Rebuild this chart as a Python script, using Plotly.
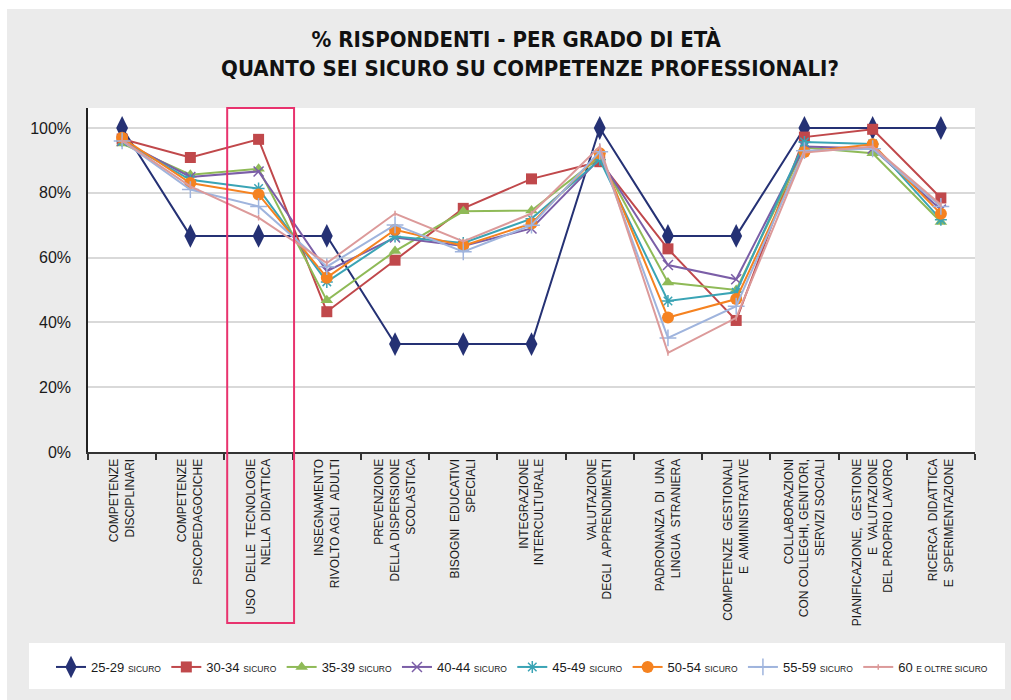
import plotly.graph_objects as go

categories = [
    "COMPETENZE<br>DISCIPLINARI",
    "COMPETENZE<br>PSICOPEDAGOCICHE",
    "USO  DELLE  TECNOLOGIE<br>NELLA  DIDATTICA",
    "INSEGNAMENTO<br>RIVOLTO AGLI  ADULTI",
    "PREVENZIONE<br>DELLA DISPERSIONE<br>SCOLASTICA",
    "BISOGNI  EDUCATIVI<br>SPECIALI",
    "INTEGRAZIONE<br>INTERCULTURALE",
    "VALUTAZIONE<br>DEGLI  APPRENDIMENTI",
    "PADRONANZA  DI  UNA<br>LINGUA  STRANIERA",
    "COMPETENZE  GESTIONALI<br>E  AMMINISTRATIVE",
    "COLLABORAZIONI<br>CON COLLEGHI, GENITORI,<br>SERVIZI SOCIALI",
    "PIANIFICAZIONE,  GESTIONE<br>E  VALUTAZIONE<br>DEL PROPRIO LAVORO",
    "RICERCA  DIDATTICA<br>E  SPERIMENTAZIONE",
]

series_names = ["25-29", "30-34", "35-39", "40-44", "45-49", "50-54", "55-59", "60"]
series_suffix = ["SICURO"] * 7 + ["E OLTRE SICURO"]

s25_29 = [100, 66.7, 66.7, 66.7, 33.3, 33.3, 33.3, 100, 66.7, 66.7, 100, 100, 100]
s30_34 = [96.6, 90.9, 96.5, 43.3, 59.2, 75.2, 84.3, 89.6, 62.7, 40.6, 97.2, 99.6, 78.4]
s35_39 = [95.2, 85.6, 87.4, 46.8, 62.0, 74.3, 74.5, 91.0, 52.3, 50.0, 94.0, 92.2, 71.0]
s40_44 = [96.0, 84.9, 86.6, 55.8, 66.2, 63.6, 69.0, 90.5, 57.7, 53.3, 94.3, 93.7, 74.8]
s45_49 = [96.0, 84.0, 81.3, 52.5, 66.5, 64.5, 72.0, 90.2, 46.6, 49.3, 95.7, 95.1, 71.7]
s50_54 = [97.0, 83.0, 79.5, 53.8, 68.6, 63.7, 70.5, 92.2, 41.5, 47.2, 92.6, 95.0, 73.5]
s55_59 = [96.0, 81.0, 75.8, 57.2, 70.1, 61.8, 70.0, 92.7, 35.2, 45.0, 93.0, 93.6, 75.8]
s60_plus = [96.2, 82.0, 72.3, 58.3, 73.6, 65.0, 73.6, 94.3, 30.6, 41.4, 92.4, 94.3, 76.3]

all_series = [s25_29, s30_34, s35_39, s40_44, s45_49, s50_54, s55_59, s60_plus]

colors = ["#253174", "#c0484b", "#8fba57", "#7b5ea7", "#3aa4b5", "#f58220", "#9fb4dd", "#dc9a9a"]
symbols = ["diamond-tall", "square", "triangle-up", "x-thin", "asterisk", "circle", "cross-thin", "line-ns"]
sizes = [17, 11, 11, 10, 10, 12, 12, 4]

TITLE_FONT = "DejaVu Sans Condensed, DejaVu Sans, sans-serif"
FONT = "Liberation Sans, Arial, sans-serif"

W, H = 1011, 700
# plot area in screen pixels (body margin removed, so screen == figure pixels)
L, R, T, B = 88, 975, 108, 452


def xp(px):
    return (px - L) / (R - L)


def yp(py):
    return (B - py) / (B - T)


fig = go.Figure()
for name, suf, vals, col, sym, sz in zip(series_names, series_suffix, all_series, colors, symbols, sizes):
    thin = sym in ("x-thin", "asterisk", "cross-thin", "line-ns")
    fig.add_trace(go.Scatter(
        x=categories, y=vals, mode="lines+markers",
        name=f"{name} <span style='font-size:8.5px'>{suf}</span>",
        line=dict(color=col, width=2),
        marker=dict(symbol=sym, size=sz, color=col,
                    line=dict(color=col, width=1.5 if thin else 0)),
    ))

ymax = (B - T) / 3.24

fig.update_layout(
    width=W, height=H,
    margin=dict(l=L, r=W - R, t=T, b=H - B),
    paper_bgcolor="#ebebeb",
    plot_bgcolor="white",
    font=dict(family=FONT, color="#1a1a1a"),
    title=dict(
        text="<b>% RISPONDENTI - PER GRADO DI ETÀ&nbsp;&nbsp;&nbsp;&nbsp;<br>"
             "QUANTO SEI SICURO SU COMPETENZE PROFESSIONALI?</b>",
        x=530 / W, xref="container", xanchor="center",
        y=1 - 47 / H, yref="container", yanchor="top",
        font=dict(size=22, family=TITLE_FONT, color="#111111"),
    ),
    showlegend=True,
    legend=dict(
        orientation="h",
        x=xp(51), xanchor="left",
        y=yp(667), yanchor="middle",
        bgcolor="rgba(0,0,0,0)",
        font=dict(size=13, family=FONT, color="#1a1a1a"),
        itemwidth=30,
        tracegroupgap=0,
    ),
    xaxis=dict(
        type="category",
        tickson="boundaries",
        ticks="outside", ticklen=6, tickwidth=1.5, tickcolor="#333333",
        showline=True, linecolor="#333333", linewidth=2,
        showgrid=False,
        tickangle=-90,
        tickfont=dict(size=12, family=FONT, color="#1a1a1a"),
        range=[-0.5, 12.5],
    ),
    yaxis=dict(
        range=[0, ymax],
        tickvals=[0, 20, 40, 60, 80, 100],
        ticktext=["0%", "20%", "40%", "60%", "80%", "100%"],
        showgrid=True, gridcolor="#d9d9d9", gridwidth=1.5,
        showline=True, linecolor="#222222", linewidth=1.5,
        ticks="", zeroline=False,
        ticklabelstandoff=12,
        tickfont=dict(size=16, family=FONT, color="#1a1a1a"),
    ),
    shapes=[
        # thin white page margins at the top and left edges
        dict(type="rect", xref="paper", yref="paper", x0=xp(0), x1=xp(7), y0=yp(700), y1=yp(0),
             fillcolor="white", line=dict(width=0), layer="below"),
        dict(type="rect", xref="paper", yref="paper", x0=xp(0), x1=xp(1011), y0=yp(9), y1=yp(0),
             fillcolor="white", line=dict(width=0), layer="below"),
        # legend box
        dict(type="rect", xref="paper", yref="paper", x0=xp(29), x1=xp(1005), y0=yp(689), y1=yp(643),
             fillcolor="white", line=dict(width=0), layer="below"),
        # highlight rectangle around category 3
        dict(type="rect", xref="x", yref="paper", x0=1.54, x1=2.52, y0=yp(623), y1=yp(108),
             fillcolor="rgba(0,0,0,0)", line=dict(color="#e8336e", width=2), layer="above"),
    ],
)

fig.write_html(
    "out.html",
    config={"displayModeBar": False},
    post_script="document.body.style.margin='0';document.body.style.overflow='hidden';"
                "document.documentElement.style.overflow='hidden';",
)
